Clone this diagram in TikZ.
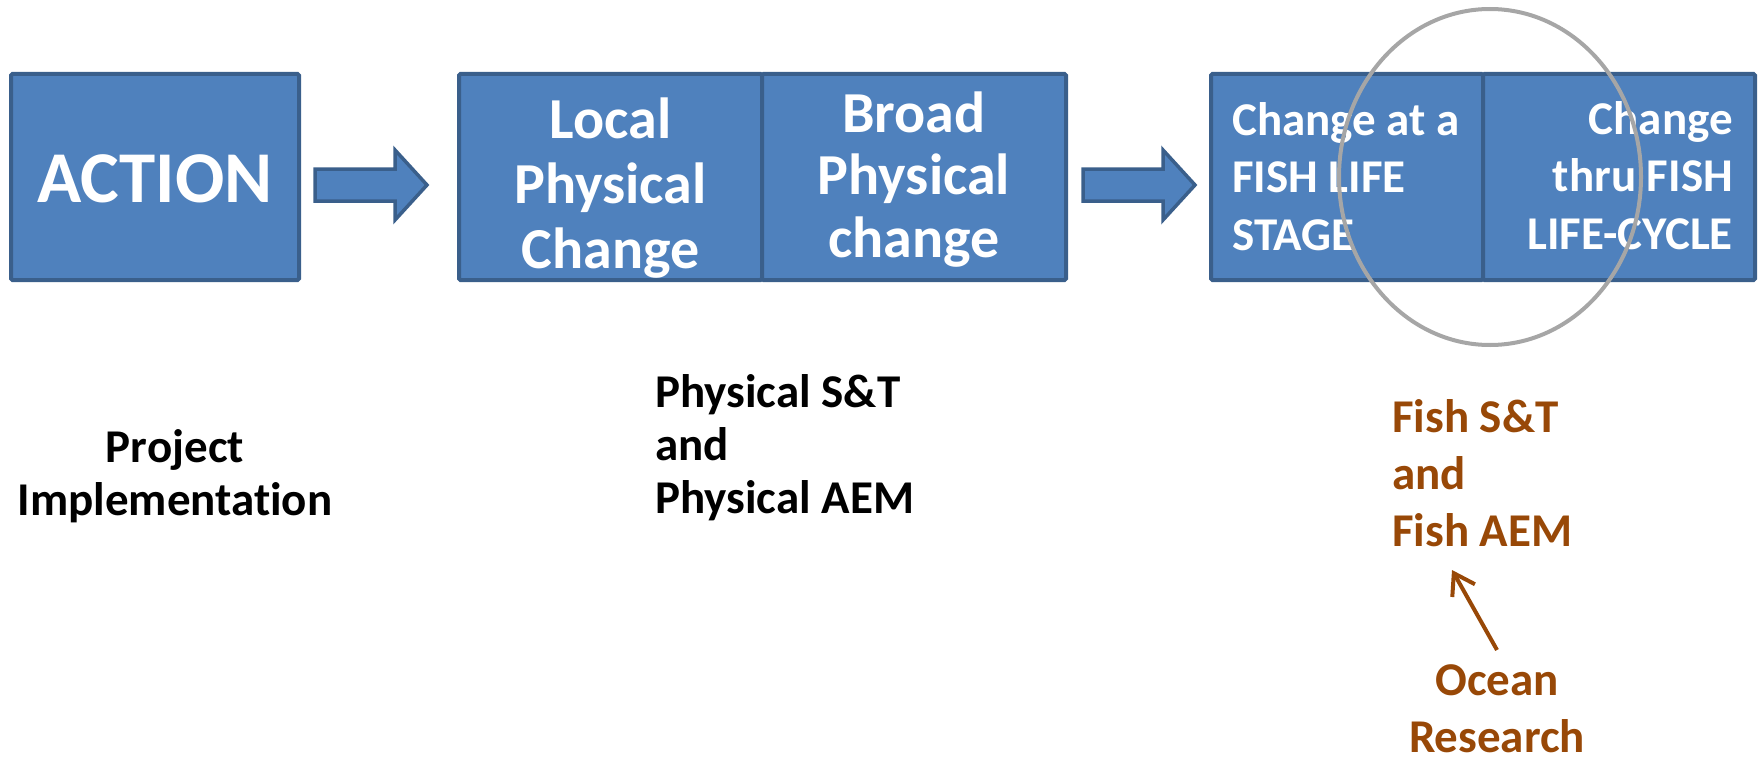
\documentclass[tikz,border=0pt]{standalone}
\usepackage{fontspec}
\setmainfont{Carlito}[Ligatures={NoCommon}]
\usetikzlibrary{arrows.meta,calc}
\definecolor{boxfill}{HTML}{4F81BD}
\definecolor{boxline}{HTML}{3A5F8B}
\definecolor{ringgray}{HTML}{A6A6A6}
\definecolor{fishbrown}{HTML}{984807}
\tikzset{
  panel/.style={draw=boxline, fill=boxfill, line width=4pt, rounded corners=1.5pt,
    inner sep=0pt, minimum height=206pt},
  paneltext/.style={text=white, inner sep=0pt, anchor=base},
  blockarrow/.style={draw=boxline, fill=boxfill, line width=3.5pt, line join=miter},
  blacklabel/.style={text=black, inner sep=0pt, anchor=base,
    font=\bfseries\fontsize{47}{53}\selectfont},
  brownlabel/.style={text=fishbrown, inner sep=0pt, anchor=base,
    font=\bfseries\fontsize{47}{57}\selectfont},
  pics/fatarrow/.style={code={
    \draw[blockarrow] (0,-16) -- (80,-16) -- (80,-35) -- (112,0) -- (80,35)
      -- (80,16) -- (0,16) -- cycle;}},
}
\begin{document}
\begin{tikzpicture}[x=1pt,y=-1pt]
\useasboundingbox (0,0) rectangle (1763,765);

% --- panels ---
\node[panel, minimum width=288pt] (action) at (155,177) {};
\node[panel, minimum width=303pt] (local) at (610.5,177) {};
\node[panel, minimum width=304pt] (broad) at (914,177) {};
\node[panel, minimum width=272pt] (stage) at (1347,177) {};
\node[panel, minimum width=272pt] (cycle) at (1619,177) {};

% --- panel texts (anchored at the baseline of the last line) ---
\node[paneltext, font=\bfseries\fontsize{73}{88}\selectfont] (actiontxt) at (155,202) {ACTION};
\node[paneltext, align=center, font=\bfseries\fontsize{58}{65}\selectfont] (localtxt) at (610.5,268)
  {Local\\Physical\\Change};
\node[paneltext, align=center, font=\bfseries\fontsize{58}{62.5}\selectfont] (broadtxt) at (914,257)
  {Broad\\Physical\\change};
\node[paneltext, anchor=base west, align=left, font=\bfseries\fontsize{47}{57.5}\selectfont] (stagetxt) at (1232,250)
  {Change at a\\FISH LIFE\\STAGE};
\node[paneltext, anchor=base east, align=right, font=\bfseries\fontsize{47}{57.5}\selectfont] (cycletxt) at (1733,249)
  {Change\\thru FISH\\LIFE-CYCLE};

% --- block arrows between the panels ---
\pic at ($(action.east)+(14,8)$) {fatarrow};
\pic at ($(stage.west)+(-126,8)$) {fatarrow};

% --- ring over the fish panels ---
\draw[ringgray, line width=4pt] (1490,177) ellipse [x radius=151, y radius=168];

% --- labels below ---
\node[blacklabel, align=center] (project) at (175,515) {Project\\Implementation};
\node[blacklabel, anchor=base west, align=left] (phys) at (655,513) {Physical S\&T\\and\\Physical AEM};
\node[brownlabel, anchor=base west, align=left] (fish) at (1392,546) {Fish S\&T\\and\\Fish AEM};
\node[brownlabel, align=center, text depth=0pt] (ocean) at (1497,752) {Ocean\\Research};

% --- research arrow ---
\coordinate (tip) at (1452,570);
\draw[fishbrown, line width=4pt, -{Straight Barb[length=20pt,width=26pt]}]
  ($(ocean.north)+(0,-14)$) -- (tip);
\end{tikzpicture}
\end{document}
